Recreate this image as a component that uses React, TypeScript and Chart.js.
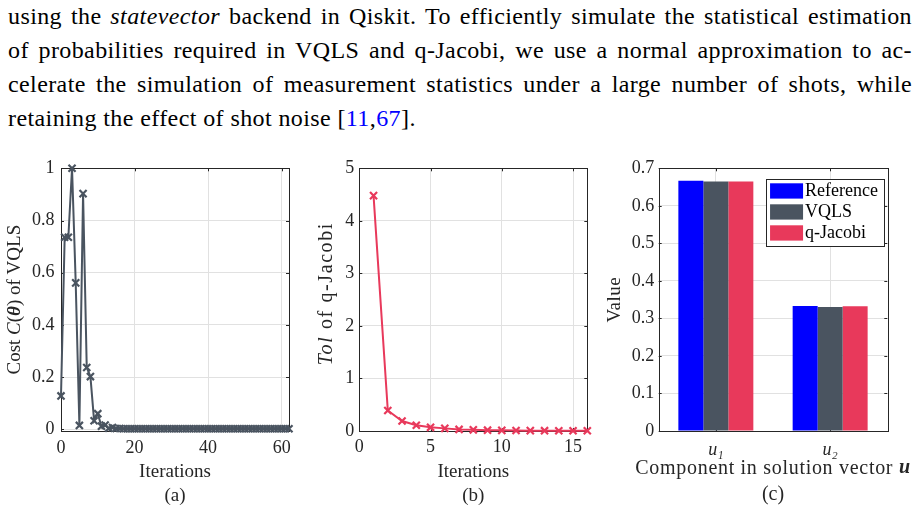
import React, { useEffect, useRef } from "react";
import { Chart, registerables } from "chart.js";
Chart.register(...registerables);

// ---------------- data ----------------
const iterVQLS = [
  0, 1, 2, 3, 4, 5, 6, 7, 8, 9,
  10, 11, 12, 13, 14, 15, 16, 17, 18, 19,
  20, 21, 22, 23, 24, 25, 26, 27, 28, 29,
  30, 31, 32, 33, 34, 35, 36, 37, 38, 39,
  40, 41, 42, 43, 44, 45, 46, 47, 48, 49,
  50, 51, 52, 53, 54, 55, 56, 57, 58, 59,
  60, 61, 62,
];
const costVQLS = [
  0.128, 0.736, 0.736, 1.0, 0.561, 0.015, 0.903, 0.237, 0.202, 0.033,
  0.06, 0.012, 0.016, 0.004, 0.007, 0.003, 0.003, 0.002, 0.002, 0.002,
  0.002, 0.002, 0.002, 0.002, 0.002, 0.002, 0.002, 0.002, 0.002, 0.002,
  0.002, 0.002, 0.002, 0.002, 0.002, 0.002, 0.002, 0.002, 0.002, 0.002,
  0.002, 0.002, 0.002, 0.002, 0.002, 0.002, 0.002, 0.002, 0.002, 0.002,
  0.002, 0.002, 0.002, 0.002, 0.002, 0.002, 0.002, 0.002, 0.002, 0.002,
  0.002, 0.002, 0.002,
];
const iterQJ = [1, 2, 3, 4, 5, 6, 7, 8, 9, 10, 11, 12, 13, 14, 15, 16];
const tolQJ = [4.48, 0.39, 0.19, 0.11, 0.07, 0.05, 0.03, 0.022, 0.016, 0.012, 0.009, 0.007, 0.006, 0.005, 0.004, 0.004];

const components = ["u\u2081", "u\u2082"];
const refVals = [0.6667, 0.3333];
const vqlsVals = [0.6645, 0.3305];
const qjVals = [0.665, 0.3322];

const xRangeA = [0, 62];
const yRangeA = [-0.0065, 1];
const xStepA = 20;
const yStepA = 0.2;
const xRangeB = [0, 16];
const yRangeB = [0, 5];
const xStepB = 5;
const yStepB = 1;
const yRangeC = [0, 0.7];
const yStepC = 0.1;

// ---------------- styles ----------------
const FAM = '"Liberation Serif", "Times New Roman", serif';
Chart.defaults.font.family = FAM;
const fnt = (size: number, style = "") => `${style} ${size}px ${FAM}`;
const AX = "#262626";
const GRID = "#e1e1e1";
const C_VQLS = "#4A5460";
const C_QJ = "#E8395B";
const C_REF = "#0000FF";

const fmtNum = (v: any) => parseFloat(Number(v).toFixed(4)).toString();

type Seg = { t: string; f: string };
type RichItem = { segs: Seg[]; at: (ca: any) => { x: number; y: number }; rot?: number; ls?: number };

function makeRich(items: RichItem[]) {
  return {
    id: "richText",
    afterDraw(chart: any) {
      const ctx = chart.ctx;
      const ca = chart.chartArea;
      items.forEach((it) => {
        const { x, y } = it.at(ca);
        ctx.save();
        ctx.translate(x, y);
        if (it.rot) ctx.rotate(it.rot);
        ctx.textBaseline = "middle";
        ctx.textAlign = "left";
        ctx.fillStyle = AX;
        if ("letterSpacing" in ctx) (ctx as any).letterSpacing = (it.ls || 0) + "px";
        let total = 0;
        const ws = it.segs.map((s) => {
          ctx.font = s.f;
          const w = ctx.measureText(s.t).width;
          total += w;
          return w;
        });
        let cx = -total / 2;
        it.segs.forEach((s, i) => {
          ctx.font = s.f;
          ctx.fillText(s.t, cx, 0);
          cx += ws[i];
        });
        ctx.restore();
      });
    },
  };
}

const boxPlugin = {
  id: "matlabBox",
  beforeDatasetsDraw(chart: any) {
    const { ctx, chartArea, scales } = chart;
    const { left, right, top, bottom } = chartArea;
    const tl = 3;
    ctx.save();
    ctx.strokeStyle = AX;
    ctx.lineWidth = 1;
    ctx.beginPath();
    scales.x.ticks.forEach((_t: any, i: number) => {
      const px = Math.round(scales.x.getPixelForTick(i)) + 0.5;
      ctx.moveTo(px, bottom);
      ctx.lineTo(px, bottom - tl);
      ctx.moveTo(px, top);
      ctx.lineTo(px, top + tl);
    });
    scales.y.ticks.forEach((_t: any, i: number) => {
      const py = Math.round(scales.y.getPixelForTick(i)) + 0.5;
      ctx.moveTo(left, py);
      ctx.lineTo(left + tl, py);
      ctx.moveTo(right, py);
      ctx.lineTo(right - tl, py);
    });
    ctx.stroke();
    ctx.strokeRect(Math.round(left) + 0.5, Math.round(top) + 0.5, Math.round(right - left), Math.round(bottom - top));
    ctx.restore();
  },
};

const boxLegend = {
  id: "boxLegend",
  afterDatasetsDraw(chart: any) {
    const { ctx, chartArea } = chart;
    const ds = chart.data.datasets;
    ctx.save();
    ctx.font = fnt(18);
    let maxW = 0;
    ds.forEach((d: any) => (maxW = Math.max(maxW, ctx.measureText(d.label).width)));
    const sw = 33, sh = 15.3, pitch = 21, padL = 3.7, gap = 2, padR = 6, padT = 4, padB = 5.4;
    const w = padL + sw + gap + maxW + padR;
    const h = padT + (ds.length - 1) * pitch + sh + padB;
    const x0 = chartArea.right - 3.3 - w;
    const y0 = chartArea.top + 11;
    ctx.fillStyle = "#ffffff";
    ctx.fillRect(x0, y0, w, h);
    ctx.strokeStyle = AX;
    ctx.lineWidth = 1;
    ctx.strokeRect(Math.round(x0) + 0.5, Math.round(y0) + 0.5, Math.round(w), Math.round(h));
    ds.forEach((d: any, i: number) => {
      const yy = y0 + padT + i * pitch;
      ctx.fillStyle = d.backgroundColor;
      ctx.fillRect(x0 + padL, yy, sw, sh);
      ctx.fillStyle = "#000";
      ctx.textBaseline = "middle";
      ctx.textAlign = "left";
      ctx.fillText(d.label, x0 + padL + sw + gap, yy + sh / 2 + 0.5);
    });
    ctx.restore();
  },
};

function useChart(ref: React.RefObject<HTMLCanvasElement>, make: () => any) {
  useEffect(() => {
    if (!ref.current) return;
    const c = new Chart(ref.current, make());
    return () => c.destroy();
  }, []);
}

const tickFont = (size: number, style = "normal") => ({ family: FAM, size, style: style as any });

function lineConfig(opts: {
  xs: number[];
  ys: number[];
  color: string;
  xRange: number[];
  yRange: number[];
  xStep: number;
  yStep: number;
  yAxisW: number;
  padRight: number;
  yPad: number;
  xPad: number;
  xTitle: string[];
  yTitle: Seg[];
  yTitleDx: number;
  yTitleDy: number;
  yTitleLs: number;
}) {
  const pts = opts.xs.map((x, i) => ({ x, y: opts.ys[i] }));
  return {
    type: "line",
    data: {
      datasets: [
        {
          data: pts,
          borderColor: opts.color,
          backgroundColor: opts.color,
          borderWidth: 2,
          pointStyle: "crossRot",
          pointRadius: 5,
          pointBorderWidth: 2.2,
          pointBorderColor: opts.color,
          tension: 0,
          clip: false,
        },
      ],
    },
    options: {
      animation: false,
      responsive: false,
      devicePixelRatio: 1,
      layout: { padding: { top: 18.3, right: opts.padRight, left: 0, bottom: 0 } },
      plugins: { legend: { display: false }, tooltip: { enabled: false } },
      scales: {
        x: {
          type: "linear",
          min: opts.xRange[0],
          max: opts.xRange[1],
          border: { display: false },
          grid: { color: GRID, drawTicks: false },
          ticks: {
            stepSize: opts.xStep,
            includeBounds: false,
            font: tickFont(18),
            color: AX,
            padding: opts.xPad,
            maxRotation: 0,
            callback: fmtNum,
          },
          title: {
            display: true,
            text: opts.xTitle,
            color: AX,
            font: { family: FAM, size: 19, lineHeight: 23.7 / 19 },
            padding: { top: 0, bottom: 4.4 },
          },
          afterFit(s: any) {
            s.height = 81;
          },
        },
        y: {
          type: "linear",
          min: opts.yRange[0],
          max: opts.yRange[1],
          border: { display: false },
          grid: { color: GRID, drawTicks: false },
          ticks: {
            stepSize: opts.yStep,
            includeBounds: false,
            font: tickFont(18),
            color: AX,
            padding: opts.yPad,
            callback: fmtNum,
          },
          afterFit(s: any) {
            s.width = opts.yAxisW;
          },
        },
      },
    },
    plugins: [
      boxPlugin,
      makeRich([
        {
          segs: opts.yTitle,
          rot: -Math.PI / 2,
          ls: opts.yTitleLs,
          at: (ca: any) => ({ x: ca.left - opts.yTitleDx, y: (ca.top + ca.bottom) / 2 + opts.yTitleDy }),
        },
      ]),
    ],
  };
}

export default function App() {
  const refA = useRef<HTMLCanvasElement>(null);
  const refB = useRef<HTMLCanvasElement>(null);
  const refC = useRef<HTMLCanvasElement>(null);

  useChart(refA, () =>
    lineConfig({
      xs: iterVQLS,
      ys: costVQLS,
      color: C_VQLS,
      xRange: xRangeA,
      yRange: yRangeA,
      xStep: xStepA,
      yStep: yStepA,
      yAxisW: 61,
      padRight: 11,
      yPad: 6.5,
      xPad: 6.5,
      xTitle: ["Iterations", "(a)"],
      yTitle: [
        { t: "Cost ", f: fnt(19) },
        { t: "C", f: fnt(19, "italic") },
        { t: "(", f: fnt(19) },
        { t: "\u03b8", f: fnt(19, "italic bold") },
        { t: ")", f: fnt(19) },
        { t: " of VQLS", f: fnt(19) },
      ],
      yTitleDx: 46,
      yTitleDy: 0,
      yTitleLs: 0,
    })
  );

  useChart(refB, () =>
    lineConfig({
      xs: iterQJ,
      ys: tolQJ,
      color: C_QJ,
      xRange: xRangeB,
      yRange: yRangeB,
      xStep: xStepB,
      yStep: yStepB,
      yAxisW: 59.3,
      padRight: 12.7,
      yPad: 5,
      xPad: 5.5,
      xTitle: ["Iterations", "(b)"],
      yTitle: [
        { t: "Tol", f: fnt(20, "italic") },
        { t: " of q-Jacobi", f: fnt(20) },
      ],
      yTitleDx: 32.6,
      yTitleDy: -6,
      yTitleLs: 1.6,
    })
  );

  useChart(refC, () => ({
    type: "bar",
    data: {
      labels: components,
      datasets: [
        { label: "Reference", data: refVals, backgroundColor: C_REF },
        { label: "VQLS", data: vqlsVals, backgroundColor: C_VQLS },
        { label: "q-Jacobi", data: qjVals, backgroundColor: C_QJ },
      ],
    },
    options: {
      animation: false,
      responsive: false,
      devicePixelRatio: 1,
      layout: { padding: { top: 18.3, right: 32.7, left: 0, bottom: 0 } },
      datasets: { bar: { categoryPercentage: 0.656, barPercentage: 1, borderWidth: 0 } },
      plugins: { legend: { display: false }, tooltip: { enabled: false } },
      scales: {
        x: {
          border: { display: false },
          grid: { color: GRID, drawTicks: false, offset: false },
          ticks: { font: tickFont(18, "italic"), color: AX, padding: 8 },
          afterFit(s: any) {
            s.height = 81;
          },
        },
        y: {
          min: yRangeC[0],
          max: yRangeC[1],
          border: { display: false },
          grid: { color: GRID, drawTicks: false },
          ticks: { stepSize: yStepC, font: tickFont(18), color: AX, padding: 4.5, callback: fmtNum },
          afterFit(s: any) {
            s.width = 58.7;
          },
        },
      },
    },
    plugins: [
      boxPlugin,
      boxLegend,
      makeRich([
        {
          segs: [{ t: "Value", f: fnt(19) }],
          rot: -Math.PI / 2,
          ls: 0.5,
          at: (ca: any) => ({ x: ca.left - 43.7, y: (ca.top + ca.bottom) / 2 }),
        },
        {
          segs: [
            { t: "Component in solution vector ", f: fnt(20) },
            { t: "u", f: fnt(20, "italic bold") },
          ],
          ls: 0.7,
          at: (ca: any) => ({ x: (ca.left + ca.right) / 2, y: ca.bottom + 37.3 }),
        },
        {
          segs: [{ t: "(c)", f: fnt(20) }],
          at: (ca: any) => ({ x: (ca.left + ca.right) / 2, y: ca.bottom + 64 }),
        },
      ]),
    ],
  }));

  const lineStyle: React.CSSProperties = { textAlign: "justify", textAlignLast: "justify" as any, whiteSpace: "nowrap" };
  const blue = { color: "#0000FF" };

  return (
    <div style={{ position: "absolute", left: 0, top: 0, width: 920, height: 512, background: "#fff" }}>
      <div
        style={{
          position: "absolute",
          left: 8,
          top: 0,
          width: 904,
          fontFamily: FAM,
          fontSize: 24,
          letterSpacing: "0.4px",
          lineHeight: "33.9px",
          color: "#000",
        }}
      >
        <div style={lineStyle}>
          using the <i>statevector</i> backend in Qiskit. To efficiently simulate the statistical estimation
        </div>
        <div style={lineStyle}>
          of probabilities required in VQLS and q-Jacobi, we use a normal approximation to ac-
        </div>
        <div style={lineStyle}>
          celerate the simulation of measurement statistics under a large number of shots, while
        </div>
        <div style={{ whiteSpace: "nowrap" }}>
          retaining the effect of shot noise [<span style={blue}>11</span>,<span style={blue}>67</span>].
        </div>
      </div>
      <canvas ref={refA} width={300} height={362} style={{ position: "absolute", left: 0, top: 150, display: "block" }} />
      <canvas ref={refB} width={300} height={362} style={{ position: "absolute", left: 300, top: 150, display: "block" }} />
      <canvas ref={refC} width={320} height={362} style={{ position: "absolute", left: 600, top: 150, display: "block" }} />
    </div>
  );
}
